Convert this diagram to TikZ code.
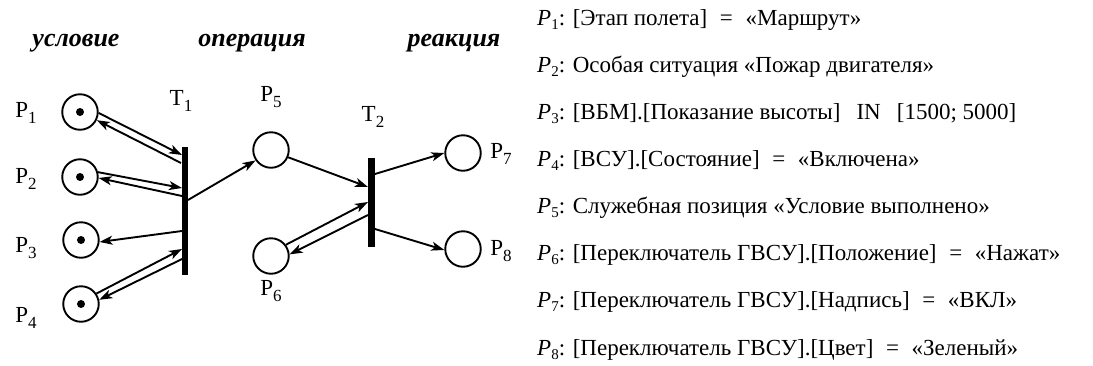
\documentclass[tikz,border=0pt]{standalone}
\usepackage{fontspec}
\setmainfont{Liberation Serif}
\usetikzlibrary{arrows.meta}
\newcommand\lsub[1]{\raisebox{-0.28em}{\fontsize{17}{17}\selectfont #1}}
\newcommand\dsub[1]{\raisebox{-0.2em}{\fontsize{15}{15}\selectfont #1}}
\newcommand\eqs{\hspace{0.55em}=\hspace{0.55em}}
\tikzset{
  place/.style={circle,draw,line width=1.9pt,minimum size=35.5pt,inner sep=0pt},
  token/.style={circle,fill,minimum size=8pt,inner sep=0pt},
  bar/.style={rectangle,fill,inner sep=0pt},
  lbl/.style={font=\fontsize{23}{25}\selectfont,inner sep=0pt},
  hdr/.style={font=\fontsize{26}{28}\selectfont\bfseries\itshape,inner sep=0pt},
  desc/.style={font=\fontsize{23}{25}\selectfont,inner sep=0pt,anchor=base west},
  arc/.style={line width=1.9pt,-{Stealth[length=13pt,width=9pt,inset=3.5pt]}},
}
\begin{document}
\begin{tikzpicture}[x=1pt,y=-1pt]
\useasboundingbox (0,0) rectangle (1093,365);
% headers
\node[hdr] (h1) at (76,43) {условие};
\node[hdr] (h2) at (252,43) {операция};
\node[hdr] (h3) at (454,43) {реакция};
% places
\node[place] (P1) at (80,112) {};
\node[place] (P2) at (80,177) {};
\node[place] (P3) at (81,240) {};
\node[place] (P4) at (81,304) {};
\node[place] (P5) at (271,150) {};
\node[place] (P6) at (271,256) {};
\node[place] (P7) at (463,153) {};
\node[place] (P8) at (463,249) {};
\foreach \p in {P1,P2,P3,P4} \node[token] (\p t) at (\p) {};
% place labels
\node[lbl] (L1) at (26,113) {P\lsub{1}};
\node[lbl] (L2) at (26,179) {P\lsub{2}};
\node[lbl] (L3) at (26,248) {P\lsub{3}};
\node[lbl] (L4) at (26,318) {P\lsub{4}};
\node[lbl] (L5) at (271,97) {P\lsub{5}};
\node[lbl] (L6) at (271,291) {P\lsub{6}};
\node[lbl] (L7) at (501,154) {P\lsub{7}};
\node[lbl] (L8) at (501,251) {P\lsub{8}};
% transitions
\node[bar,minimum width=6pt,minimum height=128pt] (T1) at (185,211) {};
\node[bar,minimum width=7pt,minimum height=89pt] (T2) at (371.5,202.5) {};
\node[lbl] (LT1) at (181,101) {T\lsub{1}};
\node[lbl] (LT2) at (373,117) {T\lsub{2}};
% attachment points on T1
\coordinate (a1) at (182,155);
\coordinate (a2) at (181,163);
\coordinate (a3) at (182,188);
\coordinate (a4) at (182,196);
\coordinate (a5) at (182,231);
\coordinate (a6) at (182,249);
\coordinate (a7) at (182,259);
\coordinate (a8) at (188,200);
% attachment points on T2
\coordinate (b1) at (368,187);
\coordinate (b2) at (368,202);
\coordinate (b3) at (368,215);
\coordinate (b4) at (375,174);
\coordinate (b5) at (375,229);
% arcs
\draw[arc] (P1.-3) -- (a1);
\draw[arc] (a2) -- (P1.-26);
\draw[arc] (P2.15) -- (a3);
\draw[arc] (a4) -- (P2.-3);
\draw[arc] (a5) -- (P3.-6);
\draw[arc] (P4.34) -- (a6);
\draw[arc] (a7) -- (P4.13);
\draw[arc] (a8) -- (P5.-146);
\draw[arc] (P5.-23) -- (b1);
\draw[arc] (P6.37) -- (b2);
\draw[arc] (b3) -- (P6.5);
\draw[arc] (b4) -- (P7.180);
\draw[arc] (b5) -- (P8.183);
% descriptions
\node[desc] (D1) at (537,25) {\textit{P}\dsub{1}: [Этап полета]\eqs«Маршрут»};
\node[desc] (D2) at (537,72) {\textit{P}\dsub{2}: Особая ситуация «Пожар двигателя»};
\node[desc] (D3) at (537,119) {\textit{P}\dsub{3}: [ВБМ].[Показание высоты]\hspace{0.7em}IN\hspace{0.7em}[1500; 5000]};
\node[desc] (D4) at (537,166) {\textit{P}\dsub{4}: [ВСУ].[Состояние]\eqs«Включена»};
\node[desc] (D5) at (537,213) {\textit{P}\dsub{5}: Служебная позиция «Условие выполнено»};
\node[desc] (D6) at (537,260) {\textit{P}\dsub{6}: [Переключатель ГВСУ].[Положение]\eqs«Нажат»};
\node[desc] (D7) at (537,307) {\textit{P}\dsub{7}: [Переключатель ГВСУ].[Надпись]\eqs«ВКЛ»};
\node[desc] (D8) at (537,355) {\textit{P}\dsub{8}: [Переключатель ГВСУ].[Цвет]\eqs«Зеленый»};
\end{tikzpicture}
\end{document}
